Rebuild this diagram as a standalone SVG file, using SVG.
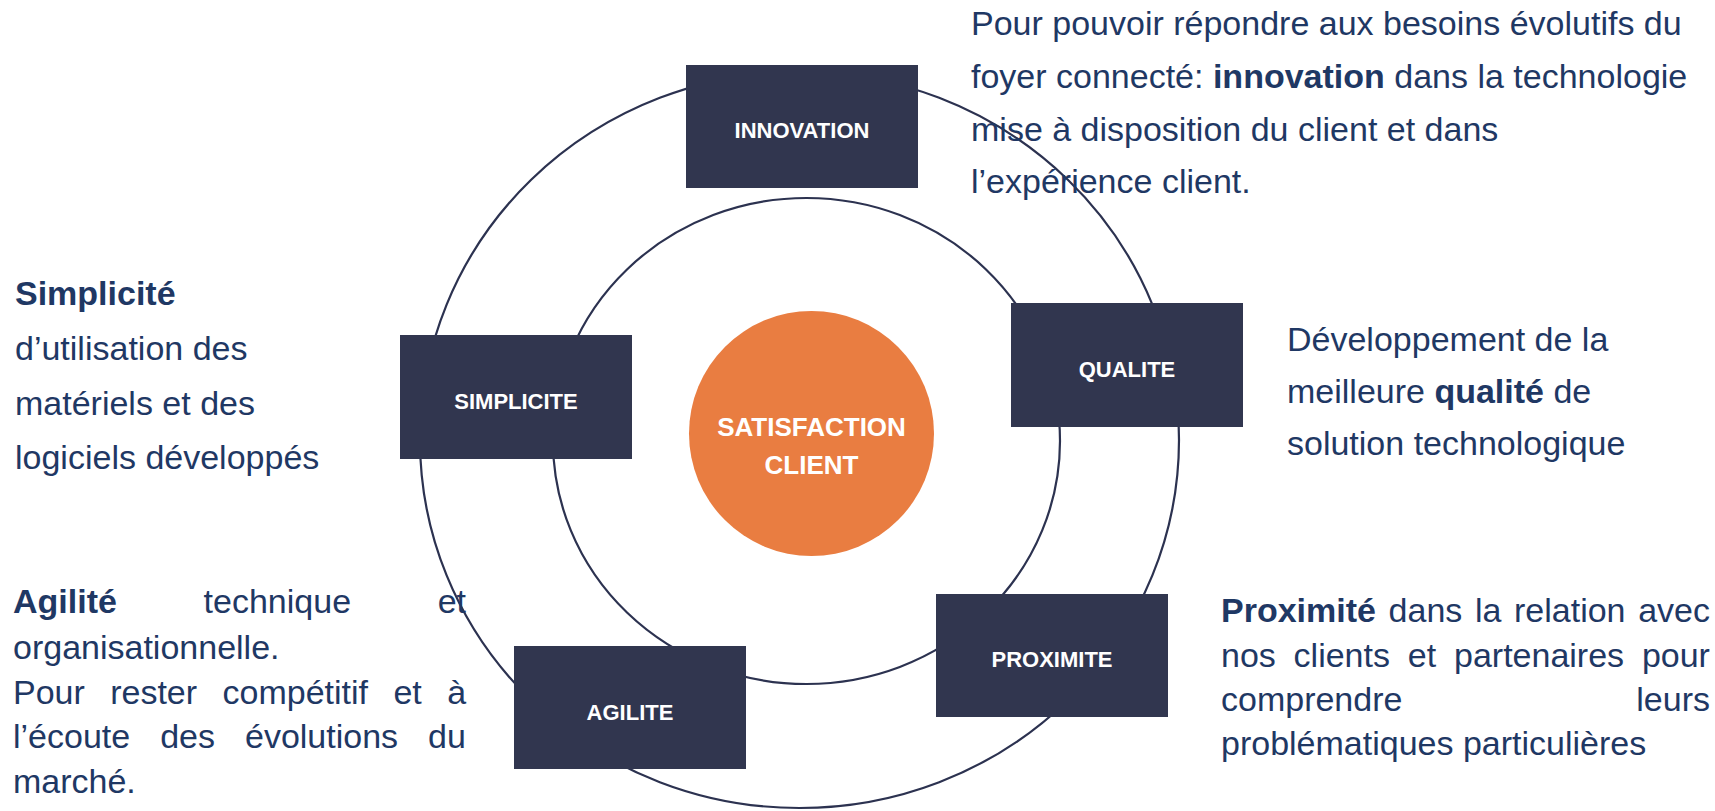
<svg xmlns="http://www.w3.org/2000/svg" width="1715" height="811" viewBox="0 0 1715 811">
  <style>
    .ring { fill: none; stroke: #2C3250; stroke-width: 2.2; }
    .box { fill: #31364F; }
    .lbl { font-family: "Liberation Sans", Arial, sans-serif; font-weight: bold; font-size: 22px; fill: #FFFFFF; text-anchor: middle; }
    .core { font-family: "Liberation Sans", Arial, sans-serif; font-weight: bold; font-size: 26px; fill: #FFFFFF; text-anchor: middle; }
    .body { font-family: "Liberation Sans", Arial, sans-serif; font-size: 34px; fill: #1F3864; }
    .b { font-weight: bold; }
  </style>
  <rect width="1715" height="811" fill="#FFFFFF"/>

  <g id="connectors">
    <ellipse class="ring" cx="799.5" cy="440" rx="379.5" ry="368"/>
    <ellipse class="ring" cx="806.5" cy="441" rx="253.5" ry="243"/>
  </g>

  <g id="satisfaction">
    <circle cx="811.5" cy="433.5" r="122.5" fill="#E97D41"/>
    <text class="core" x="811.5" y="436">SATISFACTION</text>
    <text class="core" x="811.5" y="474">CLIENT</text>
  </g>

  <g id="innovation">
    <rect class="box" x="686" y="65" width="232" height="123"/>
    <text class="lbl" x="802" y="138">INNOVATION</text>
  </g>

  <g id="simplicite">
    <rect class="box" x="400" y="335" width="232" height="124"/>
    <text class="lbl" x="516" y="409">SIMPLICITE</text>
  </g>

  <g id="qualite">
    <rect class="box" x="1011" y="303" width="232" height="124"/>
    <text class="lbl" x="1127" y="377">QUALITE</text>
  </g>

  <g id="agilite">
    <rect class="box" x="514" y="646" width="232" height="123"/>
    <text class="lbl" x="630" y="720">AGILITE</text>
  </g>

  <g id="proximite">
    <rect class="box" x="936" y="594" width="232" height="123"/>
    <text class="lbl" x="1052" y="667">PROXIMITE</text>
  </g>

  <g id="text-innovation">
    <text class="body" x="971" y="35">Pour pouvoir répondre aux besoins évolutifs du</text>
    <text class="body" x="971" y="88">foyer connecté: <tspan class="b">innovation</tspan> dans la technologie</text>
    <text class="body" x="971" y="141">mise à disposition du client et dans</text>
    <text class="body" x="971" y="193">l’expérience client.</text>
  </g>

  <g id="text-simplicite">
    <text class="body b" x="15" y="305">Simplicité</text>
    <text class="body" x="15" y="360">d’utilisation des</text>
    <text class="body" x="15" y="415">matériels et des</text>
    <text class="body" x="15" y="469">logiciels développés</text>
  </g>

  <g id="text-qualite">
    <text class="body" x="1287" y="351">Développement de la</text>
    <text class="body" x="1287" y="403">meilleure <tspan class="b">qualité</tspan> de</text>
    <text class="body" x="1287" y="455">solution technologique</text>
  </g>

  <g id="text-agilite">
    <text class="body" y="613"><tspan class="b" x="13">Agilité</tspan><tspan x="203.6">technique</tspan><tspan x="437.7">et</tspan></text>
    <text class="body" x="13" y="659">organisationnelle.</text>
    <text class="body" y="704"><tspan x="13">Pour</tspan><tspan x="110.2">rester</tspan><tspan x="222.5">compétitif</tspan><tspan x="393.4">et</tspan><tspan x="447.2">à</tspan></text>
    <text class="body" y="748"><tspan x="13">l’écoute</tspan><tspan x="160.2">des</tspan><tspan x="245">évolutions</tspan><tspan x="428.1">du</tspan></text>
    <text class="body" x="13" y="793">marché.</text>
  </g>

  <g id="text-proximite">
    <text class="body" y="622"><tspan class="b" x="1221">Proximité</tspan><tspan x="1388.6">dans</tspan><tspan x="1474.9">la</tspan><tspan x="1514">relation</tspan><tspan x="1638.2">avec</tspan></text>
    <text class="body" y="667"><tspan x="1221">nos</tspan><tspan x="1293.6">clients</tspan><tspan x="1407.8">et</tspan><tspan x="1454">partenaires</tspan><tspan x="1641.9">pour</tspan></text>
    <text class="body" y="711"><tspan x="1221">comprendre</tspan><tspan x="1710" text-anchor="end">leurs</tspan></text>
    <text class="body" x="1221" y="755">problématiques particulières</text>
  </g>
</svg>
